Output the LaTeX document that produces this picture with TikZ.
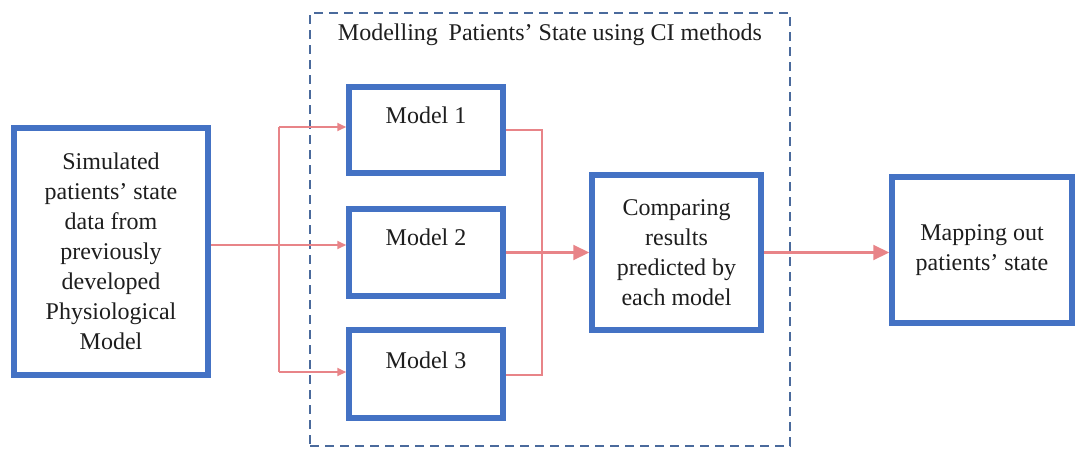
\documentclass[tikz,border=0pt]{standalone}
\usepackage{fontspec}
\setmainfont{Liberation Serif}
\usetikzlibrary{arrows.meta}
\definecolor{boxblue}{RGB}{68,114,196}
\definecolor{dashblue}{RGB}{74,106,156}
\definecolor{pk}{RGB}{232,132,136}
\definecolor{txt}{RGB}{30,30,30}
\tikzset{
  x=1pt, y=-1pt,
  bluebox/.style={draw=boxblue, line width=5.5pt, fill=white, align=center, text=txt, inner sep=0pt},
  lbl/.style={text=txt, inner sep=0pt},
  pkline/.style={draw=pk, line width=2.1pt},
  smalltip/.style={-{Triangle[length=9pt,width=8pt]}},
  bigtip/.style={-{Triangle[length=16pt,width=15pt]}},
  dashframe/.style={draw=dashblue, line width=2pt, dash pattern=on 9pt off 6pt}
}
\begin{document}
\begin{tikzpicture}[font=\fontsize{24}{30}\selectfont]
\useasboundingbox (0,0) rectangle (1077,450);
% dashed group frame
\node[dashframe, minimum width=480pt, minimum height=433pt, inner sep=0pt] (grp) at (550,229.5) {};
\node[lbl] (title) at (550,35) {Modelling\hspace{0.45em}Patients’ State using CI methods};
% boxes
\node[bluebox, minimum width=194pt, minimum height=247pt] (src) at (111,251.5)
  {Simulated\\patients’ state\\data from\\previously\\developed\\Physiological\\Model};
\node[bluebox, minimum width=154pt, minimum height=86pt] (m1) at (426,130) {};
\node[bluebox, minimum width=154pt, minimum height=87pt] (m2) at (426,252.5) {};
\node[bluebox, minimum width=154pt, minimum height=88pt] (m3) at (426,374) {};
\node[lbl] (m1t) at (426,115) {Model 1};
\node[lbl] (m2t) at (426,237) {Model 2};
\node[lbl] (m3t) at (426,360) {Model 3};
\node[bluebox, minimum width=169pt, minimum height=155pt] (cmp) at (676.5,252.5)
  {Comparing\\results\\predicted by\\each model};
\node[bluebox, minimum width=180pt, minimum height=146pt] (map) at (982,250)
  {\rule{0pt}{8pt}Mapping out\\patients’ state};
% junction coordinates
\coordinate (jl1) at (279,127);
\coordinate (jl2) at (279,245);
\coordinate (jl3) at (279,372);
\coordinate (jr1) at (542,130);
\coordinate (jr3) at (542,375);
% left fan-out
\draw[pkline] (src.east |- jl2) -- (jl2);
\draw[pkline] (jl1) -- (jl3);
\draw[pkline, smalltip] (jl1) -- (m1.west |- jl1);
\draw[pkline, smalltip] (jl2) -- (m2.west |- jl2);
\draw[pkline, smalltip] (jl3) -- (m3.west |- jl3);
% right fan-in
\draw[pkline] (m1.east |- jr1) -- (jr1) -- (jr3) -- (m3.east |- jr3);
\draw[pkline, bigtip] (m2.east) -- (cmp.west);
\draw[pkline, bigtip] (cmp.east) -- (map.west |- cmp.east);
\end{tikzpicture}
\end{document}
